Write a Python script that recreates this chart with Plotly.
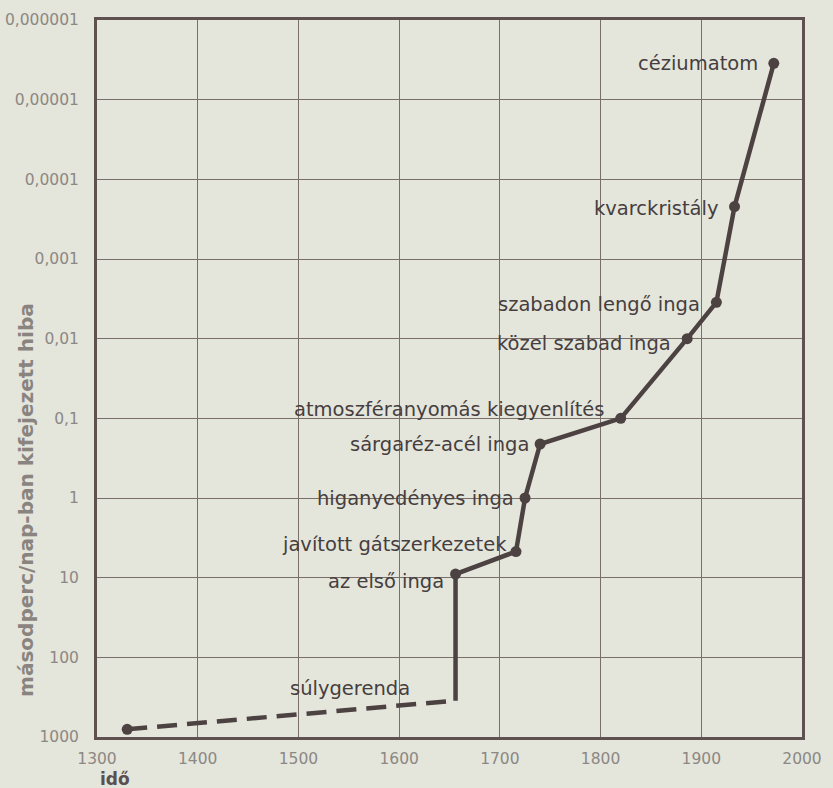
import plotly.graph_objects as go
import math

# ---- data ----
years = [1330, 1656, 1656, 1716, 1725, 1740, 1820, 1886, 1915, 1933, 1972]
errors = [800, 350, 9, 4.7, 1.0, 0.21, 0.1, 0.01, 0.0035, 0.00022, 0.0000035]
labels = ["", "súlygerenda", "az első inga", "javított gátszerkezetek",
          "higanyedényes inga", "sárgaréz-acél inga",
          "atmoszféranyomás kiegyenlítés", "közel szabad inga",
          "szabadon lengő inga", "kvarckristály", "céziumatom"]
x_ticks = [1300, 1400, 1500, 1600, 1700, 1800, 1900, 2000]
y_ticks = [1e-6, 1e-5, 1e-4, 1e-3, 1e-2, 1e-1, 1, 10, 100, 1000]
y_ticktext = ["0,000001", "0,00001", "0,0001", "0,001", "0,01", "0,1",
              "1", "10", "100", "1000"]

# label offsets (pixels): (xshift, yshift)
label_offsets = [(0, 0), (-44, 12), (-10, -7), (-7, 7), (-9, 0), (-9, 0),
                 (-14, 9), (-14, -5), (-14, -2), (-14, -2), (-14, 0)]

BG = "#e4e5db"
INK = "#4d4242"
GRID = "#7a6e6a"

fig = go.Figure()

# dashed early segment (súlygerenda era)
fig.add_trace(go.Scatter(x=years[0:2], y=errors[0:2], mode="lines",
                         line=dict(color=INK, width=4.5, dash="20px,10px"),
                         hoverinfo="skip", showlegend=False))
# solid segment from the first pendulum
fig.add_trace(go.Scatter(x=years[1:], y=errors[1:], mode="lines",
                         line=dict(color=INK, width=4.5),
                         hoverinfo="skip", showlegend=False))
# dots
dot_idx = [0] + list(range(2, len(years)))
fig.add_trace(go.Scatter(x=[years[i] for i in dot_idx],
                         y=[errors[i] for i in dot_idx], mode="markers",
                         marker=dict(color=INK, size=11),
                         hoverinfo="skip", showlegend=False))

annotations = []
for yr, er, lab, (dx, dy) in zip(years, errors, labels, label_offsets):
    if not lab:
        continue
    annotations.append(dict(x=yr, y=math.log10(er), xref="x", yref="y",
                            text=lab, showarrow=False, xanchor="right",
                            yanchor="middle", xshift=dx, yshift=dy,
                            font=dict(family="DejaVu Sans", size=19.5,
                                      color="#463e3e")))

annotations.append(dict(x=-0.1, y=0.33, xref="paper", yref="paper",
                        text="<b>másodperc/nap-ban kifejezett hiba</b>",
                        textangle=-90, showarrow=False,
                        xanchor="center", yanchor="middle",
                        font=dict(family="DejaVu Sans", size=20,
                                  color="#8a8480")))
annotations.append(dict(x=0.025, y=-0.058, xref="paper", yref="paper",
                        text="<b>idő</b>", showarrow=False,
                        xanchor="center", yanchor="middle",
                        font=dict(family="DejaVu Sans", size=17,
                                  color="#5a5050")))

fig.update_layout(
    width=833, height=788,
    margin=dict(l=97, r=31, t=20, b=51),
    paper_bgcolor=BG, plot_bgcolor=BG,
    showlegend=False,
    annotations=annotations,
    xaxis=dict(range=[1300, 2000], tickvals=x_ticks,
               ticktext=[str(t) for t in x_ticks],
               showgrid=True, gridcolor=GRID, gridwidth=1.2,
               showline=True, linecolor="#5f5150", linewidth=3, mirror=True,
               zeroline=False, ticks="", ticklabelstandoff=5,
               automargin=False,
               tickfont=dict(family="DejaVu Sans", size=15.5, color="#8c8884")),
    yaxis=dict(type="log", range=[3, -6], tickvals=y_ticks,
               ticktext=y_ticktext,
               showgrid=True, gridcolor=GRID, gridwidth=1.2,
               showline=True, linecolor="#5f5150", linewidth=3, mirror=True,
               zeroline=False, ticks="", ticklabelstandoff=12,
               automargin=False,
               tickfont=dict(family="DejaVu Sans", size=15.5, color="#8c8884")),
)

fig.write_html(
    "out.html",
    config={"displayModeBar": False},
    post_script="document.body.style.margin='0';"
                "document.body.style.background='" + BG + "';",
)
